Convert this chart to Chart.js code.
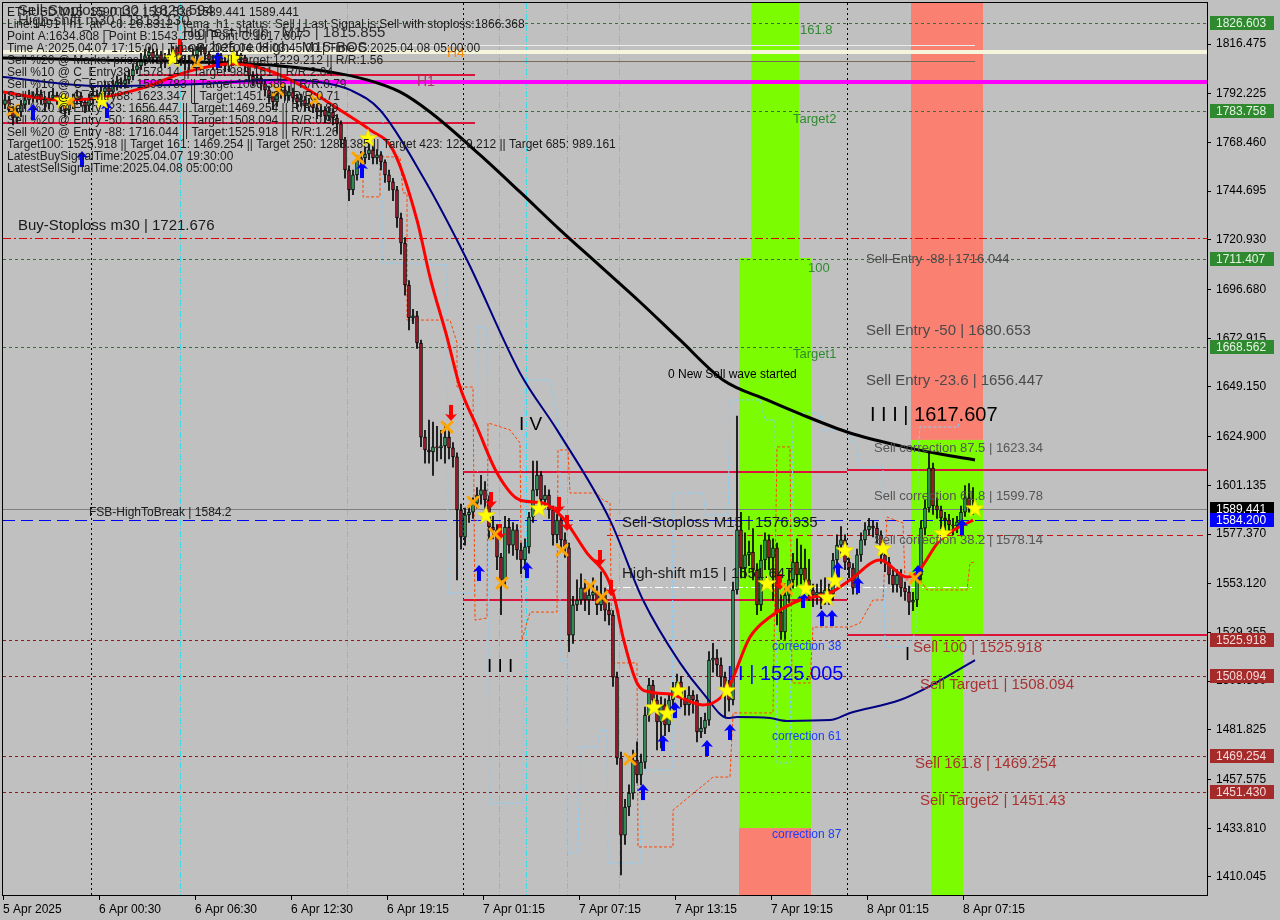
<!DOCTYPE html>
<html><head><meta charset="utf-8">
<script src="https://cdn.jsdelivr.net/npm/chart.js@4.4.1/dist/chart.umd.min.js"></script>
<style>html,body{margin:0;padding:0;background:#c0c0c0;overflow:hidden}canvas{display:block}</style>
</head><body>
<canvas id="c" width="1280" height="920" style="width:1280px;height:920px"></canvas>
<script>
const FONT = '"Liberation Sans", Arial, sans-serif';

// ---- candle data (M15 bars, index 0..242) ----
const opens = [
1787.0,1789.2,1784.3,1780.4,1783.3,1786.8,1789.2,1791.2,1790.2,1792.1,
1789.2,1787.2,1790.2,1791.6,1789.2,1786.3,1784.3,1787.2,1789.2,1791.2,
1788.2,1786.3,1789.2,1791.6,1790.2,1793.1,1795.1,1793.1,1796.0,1798.0,
1797.0,1799.0,1800.9,1803.8,1805.8,1808.7,1810.7,1812.6,1809.7,1811.2,
1807.7,1809.7,1811.6,1813.6,1810.7,1808.7,1806.8,1808.7,1811.2,1813.6,
1814.6,1811.6,1808.7,1806.8,1809.7,1807.7,1805.8,1808.7,1810.7,1808.7,
1809.7,1805.8,1800.9,1799.0,1799.9,1797.0,1794.1,1791.2,1788.2,1792.1,
1794.1,1791.2,1793.1,1790.2,1788.2,1789.2,1786.3,1787.2,1785.3,1783.3,
1784.3,1781.4,1783.3,1780.4,1777.5,1769.7,1755.0,1745.3,1752.6,1759.9,
1760.9,1762.8,1764.8,1760.9,1762.4,1758.9,1752.6,1749.2,1745.3,1731.6,
1719.4,1698.9,1682.8,1683.8,1670.6,1624.7,1618.4,1617.4,1619.9,1619.4,
1620.4,1624.7,1619.4,1615.0,1589.1,1575.9,1586.7,1588.1,1592.5,1596.4,
1598.9,1594.0,1580.8,1579.4,1566.2,1555.0,1580.8,1572.0,1579.4,1569.6,
1564.7,1571.1,1585.7,1598.9,1606.2,1594.0,1596.4,1589.1,1576.9,1584.2,
1574.5,1570.6,1528.1,1542.8,1545.2,1551.1,1545.2,1547.6,1549.1,1542.8,
1547.6,1540.3,1537.9,1507.6,1468.1,1430.5,1444.2,1451.0,1467.1,1459.8,
1466.1,1489.1,1503.7,1496.4,1485.7,1494.0,1484.2,1496.4,1501.3,1505.2,
1497.4,1494.0,1498.8,1496.4,1480.8,1482.7,1486.6,1515.9,1516.9,1513.5,
1507.6,1502.3,1496.4,1550.1,1579.4,1560.8,1567.2,1568.6,1559.8,1542.8,
1564.7,1574.5,1565.7,1570.6,1539.3,1529.6,1547.6,1555.0,1563.7,1557.4,
1560.8,1555.0,1550.1,1547.6,1549.1,1546.2,1550.1,1548.1,1564.7,1572.0,
1574.5,1563.7,1560.8,1551.1,1567.2,1574.5,1579.4,1581.3,1580.3,1576.9,
1567.2,1563.7,1557.4,1552.5,1557.4,1551.1,1549.1,1544.2,1545.2,1557.4,
1580.3,1590.1,1609.6,1591.1,1589.1,1585.2,1584.2,1581.8,1581.3,1583.3,
1588.1,1595.0,1590.5];
const highs = [
1792,1791,1786,1785,1789,1792,1794,1793,1795,1794,
1791,1793,1795,1793,1791,1788,1790,1792,1794,1793,
1790,1792,1795,1794,1796,1798,1797,1799,1801,1800,
1802,1804,1807,1809,1812,1814,1815,1814,1814,1813,
1812,1814,1815.2,1815,1813,1811,1811,1814,1815.3,1815.855,
1815,1813,1811,1812,1812,1810,1811,1813,1813,1812,
1811,1807,1803,1802,1801,1799,1796,1793,1794,1797,
1796,1796,1795,1792,1792,1791,1790,1789,1787,1787,
1786,1786,1785,1782,1779,1771,1757,1755,1762,1764,
1766,1768,1767,1765,1764,1760,1755,1751,1747,1734,
1722,1701,1687,1686,1672,1628,1633,1632,1630,1628,
1631,1628,1622,1617,1592,1590,1591,1595,1600,1606,
1603,1596,1586,1582,1568,1586,1585,1583,1582,1573,
1575,1588,1613,1613,1608,1601,1599,1591,1587,1586,
1578,1573,1547,1555,1558,1555,1552,1556,1552,1559,
1551,1544,1540,1510,1471,1448,1455,1472,1476,1470,
1493,1507,1506,1499,1498,1497,1499,1505,1509,1508,
1501,1503,1501,1499,1488,1490,1520,1524,1521,1517,
1510,1506,1554,1635,1588,1578,1574,1580,1563,1572,
1578,1577,1575,1573,1548,1551,1560,1568,1575,1572,
1570,1565,1553,1553,1555,1556,1553,1568,1577,1581,
1577,1567,1563,1570,1578,1583,1585,1584,1583,1579,
1570,1566,1560,1560,1560,1554,1552,1549,1560,1584,
1594,1617,1612,1595,1591,1588,1587,1585,1586,1591,
1601,1602,1600];
const lows = [
1785,1782,1777,1778,1781,1785,1787,1788,1788,1787,
1784,1785,1789,1787,1783,1781,1782,1785,1787,1786,
1783,1784,1787,1788,1789,1791,1791,1792,1794,1795,
1795,1797,1799,1802,1804,1806,1808,1807,1807,1805,
1805,1807,1809,1808,1806,1804,1804,1806,1809,1811,
1809,1806,1804,1804,1805,1803,1803,1806,1806,1806,
1803,1798,1796,1797,1794,1791,1788,1785,1786,1790,
1789,1789,1788,1785,1786,1784,1784,1783,1780,1781,
1778,1779,1777,1773,1766,1751,1740,1743,1750,1757,
1758,1760,1758,1758,1755,1749,1745,1740,1727,1714,
1694,1677,1680,1668,1620,1612,1612,1606,1613,1614,
1612,1614,1610,1555,1570,1572,1583,1585,1590,1592,
1590,1575,1575,1560,1538,1552,1568,1567,1565,1558,
1560,1568,1583,1596,1590,1590,1585,1572,1573,1570,
1566,1520,1524,1540,1543,1540,1538,1545,1538,1540,
1535,1533,1503,1465,1411,1426,1440,1448,1456,1455,
1463,1486,1492,1472,1473,1479,1481,1492,1498,1493,
1489,1489,1490,1476,1478,1480,1484,1510,1508,1503,
1488,1491,1494,1548,1556,1556,1562,1555,1538,1540,
1560,1560,1545,1533,1526,1526,1544,1551,1552,1553,
1550,1545,1542,1543,1541,1543,1543,1545,1562,1568,
1560,1556,1548,1548,1564,1572,1577,1576,1573,1563,
1559,1553,1549,1549,1547,1545,1538,1540,1542,1555,
1577,1588,1587,1585,1580,1579,1578,1577,1578,1580,
1586,1588,1587];
const closes = [
1789.2,1784.3,1780.4,1783.3,1786.8,1789.2,1791.2,1790.2,1792.1,1789.2,
1787.2,1790.2,1791.6,1789.2,1786.3,1784.3,1787.2,1789.2,1791.2,1788.2,
1786.3,1789.2,1791.6,1790.2,1793.1,1795.1,1793.1,1796.0,1798.0,1797.0,
1799.0,1800.9,1803.8,1805.8,1808.7,1810.7,1812.6,1809.7,1811.2,1807.7,
1809.7,1811.6,1813.6,1810.7,1808.7,1806.8,1808.7,1811.2,1813.6,1814.6,
1811.6,1808.7,1806.8,1809.7,1807.7,1805.8,1808.7,1810.7,1808.7,1809.7,
1805.8,1800.9,1799.0,1799.9,1797.0,1794.1,1791.2,1788.2,1792.1,1794.1,
1791.2,1793.1,1790.2,1788.2,1789.2,1786.3,1787.2,1785.3,1783.3,1784.3,
1781.4,1783.3,1780.4,1777.5,1769.7,1755.0,1745.3,1752.6,1759.9,1760.9,
1762.8,1764.8,1760.9,1762.4,1758.9,1752.6,1749.2,1745.3,1731.6,1719.4,
1698.9,1682.8,1683.8,1670.6,1624.7,1618.4,1617.4,1619.9,1619.4,1620.4,
1624.7,1619.4,1615.0,1589.1,1575.9,1586.7,1588.1,1592.5,1596.4,1598.9,
1594.0,1580.8,1579.4,1566.2,1555.0,1580.8,1572.0,1579.4,1569.6,1564.7,
1571.1,1585.7,1598.9,1606.2,1594.0,1596.4,1589.1,1576.9,1584.2,1574.5,
1570.6,1528.1,1542.8,1545.2,1551.1,1545.2,1547.6,1549.1,1542.8,1547.6,
1540.3,1537.9,1507.6,1468.1,1430.5,1444.2,1451.0,1467.1,1459.8,1466.1,
1489.1,1503.7,1496.4,1485.7,1494.0,1484.2,1496.4,1501.3,1505.2,1497.4,
1494.0,1498.8,1496.4,1480.8,1482.7,1486.6,1515.9,1516.9,1513.5,1507.6,
1502.3,1496.4,1550.1,1579.4,1560.8,1567.2,1568.6,1559.8,1542.8,1564.7,
1574.5,1565.7,1570.6,1539.3,1529.6,1547.6,1555.0,1563.7,1557.4,1560.8,
1555.0,1550.1,1547.6,1549.1,1546.2,1550.1,1548.1,1564.7,1572.0,1574.5,
1563.7,1560.8,1551.1,1567.2,1574.5,1579.4,1581.3,1580.3,1576.9,1567.2,
1563.7,1557.4,1552.5,1557.4,1551.1,1549.1,1544.2,1545.2,1557.4,1580.3,
1590.1,1609.6,1591.1,1589.1,1585.2,1584.2,1581.8,1581.3,1583.3,1588.1,
1595.0,1590.5,1589.4];

// ---- axes ----
const timeTickBars = [0,24,48,72,96,120,144,168,192,216,240];
const timeTickLabels = ["5 Apr 2025","6 Apr 00:30","6 Apr 06:30","6 Apr 12:30","6 Apr 19:15","7 Apr 01:15","7 Apr 07:15","7 Apr 13:15","7 Apr 19:15","8 Apr 01:15","8 Apr 07:15"];
const priceTicks = [1816.475,1792.225,1768.460,1744.695,1720.930,1696.680,1672.915,1649.150,1624.900,1601.135,1577.370,1553.120,1529.355,1505.590,1481.825,1457.575,1433.810,1410.045];
const daySeparatorBars = [22,115,211];
const cyanMarkerBars = [44.25,86,124,130.75,141,154];

// ---- indicator lines: [bar, price] ----
const maBlack = [[0,1809.7],[24.25,1808.7],[49.25,1807.7],[69.25,1805.8],[81.75,1802.9],[91,1799.0],[99.25,1793.1],[106.75,1783.3],[119.25,1762.4],[129.25,1744.3],[139.25,1725.8],[149.25,1708.2],[159.25,1690.6],[169.25,1672.1],[180,1652.6],[191,1642.8],[199.25,1636.0],[211.75,1626.7],[224.25,1620.4],[234.25,1616.4],[243,1613.5]];
const maNavy = [[0,1800.4],[24.25,1796.0],[49.25,1797.0],[69.25,1799.0],[81.75,1797.0],[86.75,1794.1],[94.25,1784.3],[105,1751.6],[116,1711.1],[129.25,1656.0],[138.5,1628.2],[151.75,1584.2],[160,1545.2],[169.25,1514.5],[175,1499.8],[181.25,1487.6],[183.5,1488.1],[191.75,1487.6],[196,1486.2],[206.75,1486.6],[211.75,1490.1],[224.25,1496.4],[231.75,1503.2],[243,1515.9]];
const maRed = [[0,1793.1],[14.25,1789.2],[24.25,1790.2],[35,1795.1],[46,1802.9],[57.5,1806.8],[66,1803.8],[74.25,1796.5],[84.25,1784.3],[91.75,1774.6],[97.5,1764.8],[103.5,1730.6],[106.75,1702.8],[111,1673.5],[114.25,1649.1],[118.5,1629.6],[123.5,1607.2],[129.25,1594.0],[135,1592.5],[140,1585.2],[146,1568.1],[151,1556.4],[153,1545.2],[155,1527.1],[158.5,1504.7],[161.75,1500.3],[166.75,1499.3],[175,1494.0],[181,1501.3],[186.75,1527.1],[191.75,1536.9],[199.25,1545.2],[206.75,1548.6],[211.75,1555.0],[219.25,1564.7],[226,1556.4],[228.5,1558.4],[234.25,1574.5],[242.5,1584.2]];
const stepOrange = [[90,1759.9],[90,1741.9],[94.25,1741.9],[94.25,1761.4],[99.25,1761.4],[100,1743.8],[101,1743.8],[101,1681.8],[111.75,1681.8],[113.5,1670.6],[113.5,1649.1],[117.5,1649.1],[118,1535.4],[121,1536.4],[121.25,1631.6],[126.75,1628.2],[129.25,1621.8],[129.75,1525.7],[131.75,1539.3],[138.5,1539.3],[138.75,1618.4],[141.25,1618.4],[141.75,1597.4],[148.5,1597.4],[150,1594.0],[151.75,1592.5],[152.25,1514.5],[158.5,1514.5],[158.75,1424.7],[167.5,1424.7],[167.5,1442.7],[177.5,1458.8],[181.75,1458.8],[182.5,1490.1],[192.5,1490.1],[193.5,1619.9],[196.75,1619.9],[197.25,1504.7],[201.75,1504.7],[202.5,1532.0],[211.75,1532.0],[214.25,1534.0],[217.5,1545.2],[220,1545.2],[221,1585.7],[225,1582.8],[225.5,1555.0],[229.25,1555.0],[231,1550.1],[241,1550.1],[241.75,1563.3],[243,1563.7]];
const stepBlue = [[95,1784.3],[95,1709.7],[111,1708.7],[111.25,1548.6],[118.5,1548.6],[118.75,1678.4],[121,1678.4],[121.75,1446.1],[130,1446.1],[130.5,1652.6],[136.75,1652.6],[139.25,1628.2],[139.25,1515.9],[141,1515.9],[141.25,1421.7],[143.75,1421.7],[144.25,1473.5],[148.5,1473.5],[149.25,1481.8],[151,1481.8],[151.25,1416.9],[159.25,1416.9],[159.75,1462.2],[167.25,1462.2],[167.5,1597.4],[175,1597.4],[175.75,1586.7],[181.25,1586.7],[181.75,1642.8],[189.25,1642.8],[190.5,1633.0],[193,1633.0],[193.5,1465.7],[196.75,1465.7],[197.5,1636.5],[204.25,1636.5],[204.75,1628.2],[210.5,1628.2],[213.5,1619.9],[214.25,1610.1],[220,1610.1],[220.5,1522.3],[226,1522.3],[228.5,1530.6],[228.75,1616.9],[229.25,1629.6],[238.75,1629.6],[239.25,1633.0]];

// ---- signal markers: [bar, price] ----
const starPts = [[15,1789.2],[24.75,1789.2],[42.5,1809.7],[57.5,1809.7],[91.25,1770.7],[120.75,1586.7],[134,1590.1],[162.75,1493.0],[166,1490.1],[168.75,1501.3],[181,1501.3],[191,1553.5],[200.75,1551.1],[206,1546.7],[208,1555.0],[210.5,1569.6],[220,1570.6],[235,1577.9],[243,1590.1]];
const crossPts = [[2.5,1784.3],[16.75,1788.2],[48.5,1807.3],[68.75,1794.1],[78,1789.2],[88.75,1760.9],[111,1629.6],[117.5,1593.0],[123,1577.4],[124.75,1553.5],[139.75,1569.6],[146.75,1552.0],[149.75,1546.7],[156.75,1467.6],[196,1550.6],[228,1555.9]];
const upPts = [[7.5,1783.3],[26,1784.3],[53.75,1808.7],[19.75,1760.4],[89.75,1755.0],[119,1558.4],[131,1559.8],[160,1451.5],[165,1475.4],[168,1491.5],[176,1473.0],[181.75,1480.8],[200,1545.2],[204.75,1536.4],[207.25,1536.4],[208.75,1559.8],[213.75,1552.5],[228.75,1558.4],[239.75,1580.8]];
const downPts = [[44.25,1815.1],[112,1636.5],[122,1594.0],[124.25,1578.4],[139,1591.6],[141,1582.8],[149.25,1565.7],[152,1551.1],[194.25,1554.0]];

// ---- price levels ----
const greenLevels = [1826.603,1783.758,1711.407,1668.562];
const brownLevels = [1525.918,1508.094,1469.254,1451.43];
const buyStop = 1721.676, sellStopM15 = 1576.935, highShift = 1551.647, lastPrice = 1589.441, fsbLevel = 1584.2;

// ---- styles / placement (not data) ----
const hLines = [
  ...greenLevels.map(p=>({p, c:'#3d6b3d', w:1, d:[3,3]})),
  {p:buyStop, c:'#e00000', w:1, d:[8,3,2,3]},
  ...brownLevels.map(p=>({p, c:'#8b1a1a', w:1, d:[3,3]})),
  {p:sellStopM15, b0:151, c:'#d01010', w:1, d:[6,4]},
  {p:1607.7, b0:115, b1:211, c:'#dc143c', w:2},
  {p:1545.2, b0:115, b1:211, c:'#dc143c', w:2},
  {p:1608.6, b0:211, c:'#dc143c', w:2},
  {p:1528.3, b0:211, c:'#dc143c', w:2},
  {p:1801.4, b0:34, b1:118, c:'#dc143c', w:2},
  {p:1778.0, b1:118, c:'#dc143c', w:2},
  {p:1816.0, b0:44, b1:243, c:'#ececec', w:1},
  {p:1808.2, b0:44, b1:243, c:'#7a6a5a', w:1},
  {p:1812.6, c:'#f5f5dc', w:4},
  {p:1798.0, b0:34, c:'#ff00ff', w:4},
  {p:lastPrice, c:'#808080', w:1},
  {p:fsbLevel, c:'#0000ff', w:1, d:[12,6]},
  {p:highShift, b0:151, b1:243, c:'#ffffff', w:1, d:[8,3,2,3]}
];
const zones = [
  {b0:187,b1:199,p0:1712.1,p1:null,c:'#7cfc00'},
  {b0:184,b1:202,p0:1433.9,p1:1712.1,c:'#7cfc00'},
  {b0:184,b1:202,p0:null,p1:1433.9,c:'#fa8072'},
  {b0:227,b1:245,p0:1623.3,p1:null,c:'#fa8072'},
  {b0:227,b1:245,p0:1528.1,p1:1623.3,c:'#7cfc00'},
  {b0:232,b1:240,p0:null,p1:1528.1,c:'#7cfc00'}
];
const labels = [
  ["Buy-Stoploss m30 | 1721.676",3.75,1727.7,15,'#1a1a1a'],
  ["FSB-HighToBreak | 1584.2",21.5,1587.7,12,'#1a1a1a'],
  ["Sell-Stoploss M15 | 1576.935",154.75,1582.8,15,'#1a1a1a'],
  ["High-shift m15 | 1551.647",154.75,1557.9,15,'#1a1a1a'],
  ["I V",129,1630.6,19,'#000'],
  ["I I I",121,1512.5,19,'#000'],
  ["I I | 1525.005",181,1509.1,20,'#0000ff'],
  ["I I I | 1617.607",216.75,1635.0,20,'#000'],
  ["I",225.5,1518.4,18,'#000'],
  ["0 New Sell wave started",166.25,1655.0,12,'#000'],
  ["161.8",199.25,1822.9,13,'#2e8b2e'],
  ["Target2",197.5,1779.9,13,'#2e8b2e'],
  ["100",201.25,1707.2,13,'#2e8b2e'],
  ["Target1",197.5,1664.8,13,'#2e8b2e'],
  ["Sell-Entry -88 | 1716.044",215.75,1711.6,13,'#4a4a4a'],
  ["Sell Entry -50 | 1680.653",215.75,1676.5,15,'#4a4a4a'],
  ["Sell Entry -23.6 | 1656.447",215.75,1652.1,15,'#4a4a4a'],
  ["Sell correction 87.5 | 1623.34",217.75,1619.4,13,'#555'],
  ["Sell correction 61.8 | 1599.78",217.75,1595.95,13,'#555'],
  ["Sell correction 38.2 | 1578.14",217.75,1574.5,13,'#555'],
  ["Sell 100 | 1525.918",227.5,1521.8,15,'#a83232'],
  ["Sell Target1 | 1508.094",229.25,1503.7,15,'#a83232'],
  ["Sell 161.8 | 1469.254",228,1465.2,15,'#a83232'],
  ["Sell Target2 | 1451.43",229.25,1447.1,15,'#a83232'],
  ["correction 38",192.25,1522.3,12,'#1a3cff'],
  ["correction 61",192.25,1478.3,12,'#1a3cff'],
  ["correction 87",192.25,1430.5,12,'#1a3cff'],
  ["H4",111,1812.1,14,'#ff8c00'],
  ["H1",103.5,1798.0,14,'#b03070'],
  ["Highest High   M15 | 1815.855",45,1821.9,15,'#2a2a2a'],
  ["Low before High   M15-BOS",44.25,1814.6,15,'#2a2a2a']
];
const infoLines = [
  "Line:1491 | h1_atr_c0: 26.8312 | tema_h1_status: Sell | Last Signal is:Sell with stoploss:1866.368",
  "Point A:1634.808 | Point B:1543.199 | Point C:1617.607",
  "Time A:2025.04.07 17:15:00 | Time B:2025.04.08 03:45:00 | Time C:2025.04.08 05:00:00",
  "Sell %20 @ Market price or at: 1617.607 || Target:1229.212 || R/R:1.56",
  "Sell %10 @ C_Entry38: 1578.14 || Target:988.161 || R/R:2.04",
  "Sell %10 @ C_Entry61: 1599.783 || Target:1088.385 || R/R:0.79",
  "Sell %10 @ C_Entry88: 1623.347 || Target:1451.43 || R/R:0.71",
  "Sell %20 @ Entry -23: 1656.447 || Target:1469.254 || R/R:0.89",
  "Sell %20 @ Entry -50: 1680.653 || Target:1508.094 || R/R:0.93",
  "Sell %20 @ Entry -88: 1716.044 || Target:1525.918 || R/R:1.26",
  "Target100: 1525.918 || Target 161: 1469.254 || Target 250: 1288.385 || Target 423: 1229.212 || Target 685: 989.161",
  "LatestBuySignalTime:2025.04.07 19:30:00",
  "LatestSellSignalTime:2025.04.08 05:00:00"
];
const axisBoxes = [
  [1826.603,'#2f8a2f','#e6f4e6'],[1783.758,'#2f8a2f','#e6f4e6'],[1711.407,'#2f8a2f','#e6f4e6'],[1668.562,'#2f8a2f','#e6f4e6'],
  [1589.441,'#000000','#ffffff'],[1584.200,'#0000ff','#ffffff'],
  [1525.918,'#a52a2a','#f5dada'],[1508.094,'#a52a2a','#f5dada'],[1469.254,'#a52a2a','#f5dada'],[1451.430,'#a52a2a','#f5dada']
];

// ---- marker glyphs ----
function mk(w,h,draw){const c=document.createElement('canvas');c.width=w;c.height=h;draw(c.getContext('2d'),w,h);return c;}
const starImg = mk(20,20,g=>{g.beginPath();for(let k=0;k<10;k++){const r=k%2?3.8:9.5;const a=-Math.PI/2+k*Math.PI/5;g.lineTo(10+r*Math.cos(a),10.8+r*Math.sin(a));}g.closePath();g.fillStyle='#ffff00';g.fill();g.strokeStyle='#e8d400';g.lineWidth=0.7;g.stroke();});
const xImg = mk(16,16,g=>{g.strokeStyle='#ffa500';g.lineWidth=3;g.lineCap='round';g.beginPath();g.moveTo(3,3);g.lineTo(13,13);g.moveTo(13,3);g.lineTo(3,13);g.stroke();});
const upImg = mk(14,18,g=>{g.fillStyle='#0000ff';g.beginPath();g.moveTo(7,1);g.lineTo(13,8);g.lineTo(9,7);g.lineTo(9,17);g.lineTo(5,17);g.lineTo(5,7);g.lineTo(1,8);g.closePath();g.fill();});
const downImg = mk(14,18,g=>{g.fillStyle='#ff0000';g.beginPath();g.moveTo(7,17);g.lineTo(13,10);g.lineTo(9,11);g.lineTo(9,1);g.lineTo(5,1);g.lineTo(5,11);g.lineTo(1,10);g.closePath();g.fill();});

const toXY = arr => arr.map(([x,y])=>({x,y}));
const wickData = closes.map((c,i)=>({x:i+0.5, y:[lows[i],highs[i]]}));
const bodyData = closes.map((c,i)=>({x:i+0.5, y:[opens[i],c]}));

const mtPlugin = {
  id:'mt',
  beforeDraw(ch){const c=ch.ctx;c.save();c.fillStyle='#c0c0c0';c.fillRect(0,0,ch.width,ch.height);c.restore();},
  beforeDatasetsDraw(ch){
    const c=ch.ctx,a=ch.chartArea,xs=ch.scales.x,ys=ch.scales.y;
    c.save();c.beginPath();c.rect(a.left,a.top,a.right-a.left,a.bottom-a.top);c.clip();
    zones.forEach(z=>{
      const x0=xs.getPixelForValue(z.b0),x1=xs.getPixelForValue(z.b1);
      const y0=z.p1==null?a.top:ys.getPixelForValue(z.p1);
      const y1=z.p0==null?a.bottom:ys.getPixelForValue(z.p0);
      c.fillStyle=z.c;c.fillRect(x0,y0,x1-x0,y1-y0);
    });
    c.lineWidth=1;
    c.strokeStyle='#000';c.setLineDash([2,3]);
    daySeparatorBars.forEach(b=>{const x=Math.round(xs.getPixelForValue(b))+0.5;c.beginPath();c.moveTo(x,a.top);c.lineTo(x,a.bottom);c.stroke();});
    c.strokeStyle='#3fd8e4';c.setLineDash([6,2,1,2]);
    cyanMarkerBars.forEach(b=>{const x=Math.round(xs.getPixelForValue(b))+0.5;c.beginPath();c.moveTo(x,a.top);c.lineTo(x,a.bottom);c.stroke();});
    hLines.forEach(h=>{
      const y=Math.round(ys.getPixelForValue(h.p))+(h.w%2?0.5:0);
      const x0=h.b0==null?a.left:xs.getPixelForValue(h.b0);
      const x1=h.b1==null?a.right:xs.getPixelForValue(h.b1);
      c.strokeStyle=h.c;c.lineWidth=h.w;c.setLineDash(h.d||[]);
      c.beginPath();c.moveTo(x0,y);c.lineTo(x1,y);c.stroke();
    });
    c.restore();
  },
  afterDatasetsDraw(ch){
    const c=ch.ctx,xs=ch.scales.x,ys=ch.scales.y,a=ch.chartArea;
    c.save();c.beginPath();c.rect(a.left,a.top,a.right-a.left,a.bottom-a.top);c.clip();
    c.textBaseline='middle';c.textAlign='left';
    labels.forEach(([t,b,p,s,col])=>{c.font=s+'px '+FONT;c.fillStyle=col;c.fillText(t,xs.getPixelForValue(b),ys.getPixelForValue(p));});
    c.font='15px '+FONT;c.fillStyle='#2a2a2a';
    c.fillText("Sell-Stoploss m30 | 1826.594",18,11);
    c.fillText("High-shift m30 | 1813.130",18,21);
    c.font='12px '+FONT;c.fillStyle='#1c1c1c';
    c.fillText("ETHUSD,M15  1590.112 1591.536 1589.441 1589.441",7,13);
    infoLines.forEach((t,k)=>c.fillText(t,7,25+12*k));
    c.restore();
  },
  afterDraw(ch){
    const c=ch.ctx,ys=ch.scales.y,a=ch.chartArea;
    c.save();
    c.font='12px '+FONT;c.textBaseline='middle';c.textAlign='left';
    axisBoxes.forEach(([p,bg,fg])=>{const y=Math.round(ys.getPixelForValue(p));c.fillStyle=bg;c.fillRect(a.right+3,y-7,64,14);c.fillStyle=fg;c.fillText(p.toFixed(3),a.right+9,y+0.5);});
    c.strokeStyle='#000';c.lineWidth=1;c.setLineDash([]);
    c.strokeRect(a.left-0.5,a.top-0.5,a.right-a.left+1,a.bottom-a.top+1);
    c.restore();
  }
};

const lineDs = (data,color,width,extra={}) => Object.assign({type:'line',data:toXY(data),borderColor:color,borderWidth:width,pointRadius:0,fill:false,cubicInterpolationMode:'monotone'},extra);
const markDs = (data,img,order) => ({type:'line',data:toXY(data),showLine:false,pointStyle:img,pointRadius:9,order});
const noPad = s => {s.paddingLeft=0;s.paddingRight=0;s.paddingTop=0;s.paddingBottom=0;};

new Chart(document.getElementById('c'),{
  type:'bar',
  data:{datasets:[
    markDs(starPts,starImg,0),
    markDs(crossPts,xImg,0),
    markDs(upPts,upImg,0),
    markDs(downPts,downImg,0),
    lineDs(maRed,'#ff0000',3,{order:1}),
    lineDs(maNavy,'#000080',2,{order:2}),
    lineDs(maBlack,'#000000',3,{order:2}),
    {type:'bar',data:bodyData,backgroundColor:ctx=>closes[ctx.dataIndex]>=opens[ctx.dataIndex]?'#35a862':'#b51e2e',borderColor:'#000',borderWidth:1,borderSkipped:false,barThickness:3,grouped:false,order:4},
    {type:'bar',data:wickData,backgroundColor:'#000',borderWidth:0,barThickness:1,grouped:false,order:5},
    lineDs(stepOrange,'#ff4500',1,{borderDash:[3,2],cubicInterpolationMode:'default',tension:0,order:6}),
    lineDs(stepBlue,'#87cefa',1,{borderDash:[3,2],cubicInterpolationMode:'default',tension:0,order:6})
  ]},
  options:{
    responsive:false,animation:false,events:[],
    layout:{autoPadding:false,padding:{left:3,top:3,right:0,bottom:0}},
    plugins:{legend:{display:false},tooltip:{enabled:false}},
    scales:{
      x:{type:'linear',min:0,max:301,offset:false,position:'bottom',
        afterFit(s){s.height=25;noPad(s);},
        afterBuildTicks(s){s.ticks=timeTickBars.map(v=>({value:v}));},
        ticks:{autoSkip:false,maxRotation:0,minRotation:0,align:'start',padding:2,color:'#000',font:{family:FONT,size:12},
          callback:v=>{const k=timeTickBars.indexOf(v);return k>=0?timeTickLabels[k]:'';}},
        grid:{drawOnChartArea:false,offset:false,tickLength:5,color:'#000'},
        border:{display:true,color:'#000'}},
      y:{type:'linear',position:'right',min:1401.26,max:1836.5,
        afterFit(s){s.width=73;noPad(s);},
        afterBuildTicks(s){s.ticks=priceTicks.map(v=>({value:v}));},
        ticks:{padding:5,color:'#000',crossAlign:'near',font:{family:FONT,size:12},callback:v=>Number(v).toFixed(3)},
        grid:{drawOnChartArea:false,tickLength:4,color:'#000'},
        border:{display:true,color:'#000'}}
    }
  },
  plugins:[mtPlugin]
});
</script>
</body></html>
